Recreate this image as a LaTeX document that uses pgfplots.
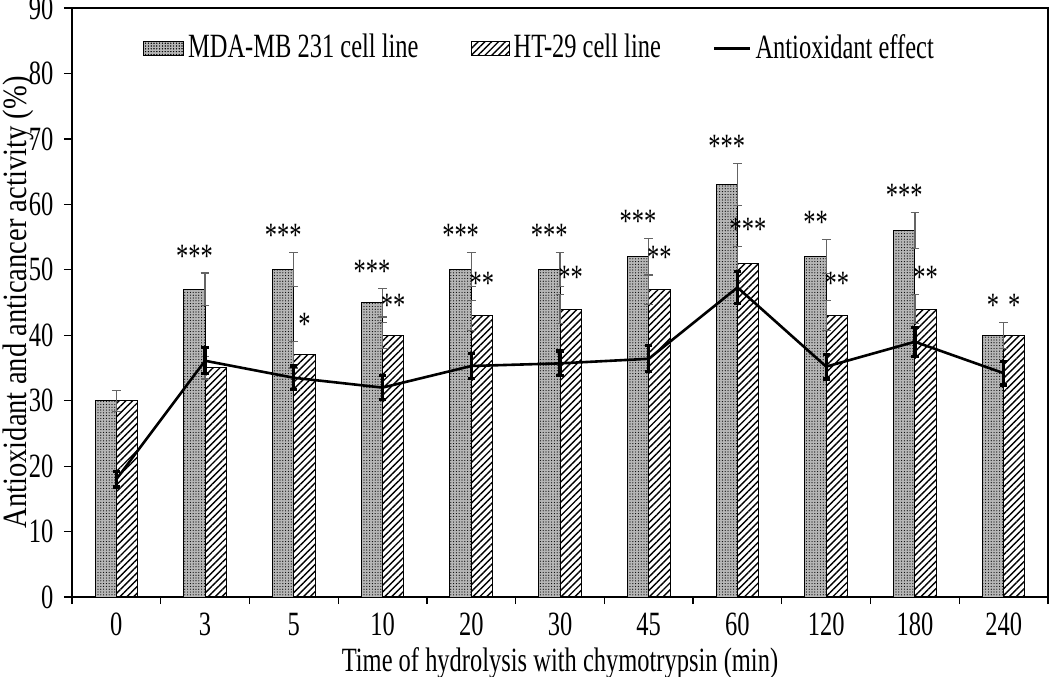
\documentclass[border=0pt]{standalone}
\usepackage{pgfplots}
\pgfplotsset{compat=1.18}
\usepackage{fontspec}
\setmainfont{Liberation Serif}[FakeStretch=0.72]
\newfontfamily\ylabfont{Liberation Serif}[FakeStretch=0.84]
\usetikzlibrary{patterns.meta}
\definecolor{mdagray}{RGB}{182,182,182}
\definecolor{errgray}{RGB}{100,100,100}
\begin{document}
\fontsize{17pt}{19pt}\selectfont
\begin{tikzpicture}
\useasboundingbox (-36pt,-39.5pt) rectangle (489pt,298.5pt);
\begin{axis}[
  scale only axis,
  width=488pt, height=294.5pt,
  xmin=-0.5, xmax=10.5,
  ymin=0, ymax=90,
  ytick={0,10,...,90},
  xtick={0,...,10},
  xticklabels={0,3,5,10,20,30,45,60,120,180,240},
  minor xtick={-0.5,0.5,...,10.5},
  tick align=outside,
  xtick pos=bottom, ytick pos=left,
  major x tick style={draw=none},
  minor tick length=3.5pt,
  major tick length=4pt,
  tick style={black, line width=0.6pt},
  axis line style={line width=0.6pt},
  /pgf/number format/assume math mode=true,
  ticklabel style={font=\fontsize{17pt}{19pt}\selectfont},
  xticklabel style={yshift=2pt},
  yticklabel style={xshift=0.5pt},
  xlabel={Time of hydrolysis with chymotrypsin (min)},
  ylabel={\ylabfont Antioxidant and anticancer activity (\%)},
  every axis x label/.style={at={([yshift=-33pt]axis description cs:0.5,0)}, anchor=center},
  every axis y label/.style={at={([xshift=-27pt]axis description cs:0,0.5)}, rotate=90, anchor=center},
  legend style={at={(0.48,0.97)}, anchor=north, draw=none, fill=none, legend columns=3,
    /tikz/every even column/.append style={column sep=24pt}, font=\fontsize{17pt}{19pt}\selectfont},
  legend cell align=left,
]
\addplot[ybar, bar width=0.24, bar shift=-0.12, fill=mdagray, draw=black, line width=0.5pt,
  postaction={pattern={Dots[distance=1.4pt, radius=0.3pt]}, pattern color=black},
  legend image code/.code={\draw[fill=mdagray, draw=black, line width=0.5pt, postaction={pattern={Dots[distance=1.4pt, radius=0.3pt]}, pattern color=black}] (0pt,-3.5pt) rectangle (20pt,3.5pt);},
  error bars/.cd, y dir=both, y explicit, error bar style={errgray, solid, line width=0.6pt},
  error mark options={errgray, solid, rotate=90, mark size=2.2pt, line width=0.6pt}]
  table[x=x, y=y, y error=e] {
x y e
0 30 1.6
1 47 2.5
2 50 2.6
3 45 2.2
4 50 2.6
5 50 2.6
6 52 2.8
7 63 3.2
8 52 2.6
9 56 2.8
10 40 2
};
\addlegendentry{MDA-MB 231 cell line}
\addplot[ybar, bar width=0.24, bar shift=0.12, pattern={Lines[angle=45, distance=2.4pt, line width=0.7pt]}, pattern color=black, draw=black, line width=0.5pt,
  legend image code/.code={\draw[pattern={Lines[angle=45, distance=2.4pt, line width=0.7pt]}, pattern color=black, draw=black, line width=0.5pt] (0pt,-3.5pt) rectangle (19pt,3.5pt);},
  error bars/.cd, y dir=both, y explicit, error bar style={errgray, solid, line width=0.6pt},
  error mark options={errgray, solid, rotate=90, mark size=2.2pt, line width=0.6pt}]
  table[x=x, y=y, y error=e] {
x y e
0 30 1.6
1 35 1.7
2 37 2
3 40 2
4 43 2.3
5 44 2.2
6 47 2.3
7 51 2.6
8 43 2.3
9 44 2.2
10 40 2
};
\addlegendentry{HT-29 cell line}
\addplot[black, line width=1.3pt, mark=none,
  legend image code/.code={\draw[black, line width=1.3pt] (0pt,0pt) -- (18pt,0pt);},
  error bars/.cd, y dir=both, y explicit, error bar style={black, line width=1.6pt},
  error mark options={black, rotate=90, mark size=1.8pt, line width=1.6pt}]
  table[x=x, y=y, y error=e] {
x y e
0 18 1.2
1 36.1 2
2 33.5 1.8
3 32 1.8
4 35.3 1.9
5 35.7 1.9
6 36.4 2
7 47.3 2.4
8 35.2 1.9
9 39 2.2
10 34.2 1.8
};
\addlegendentry{Antioxidant effect}
% significance marks
\begin{scope}[every node/.style={anchor=base, inner sep=0pt, font=\fontsize{17pt}{19pt}\selectfont}]
\node at (axis cs:0.88,50.4) {***};
\node at (axis cs:1.88,53.5) {***};
\node at (axis cs:2.12,39.9) {*};
\node at (axis cs:2.88,48.1) {***};
\node at (axis cs:3.12,42.9) {**};
\node at (axis cs:3.88,53.5) {***};
\node at (axis cs:4.12,46.2) {**};
\node at (axis cs:4.88,53.5) {***};
\node at (axis cs:5.12,47.1) {**};
\node at (axis cs:5.88,55.7) {***};
\node at (axis cs:6.12,50.2) {**};
\node at (axis cs:6.88,67.1) {***};
\node at (axis cs:7.12,54.5) {***};
\node at (axis cs:7.88,55.5) {**};
\node at (axis cs:8.12,46.2) {**};
\node at (axis cs:8.88,59.7) {***};
\node at (axis cs:9.12,47.1) {**};
\node at (axis cs:9.88,42.9) {*};
\node at (axis cs:10.12,42.9) {*};
\end{scope}
\end{axis}
\end{tikzpicture}
\end{document}
